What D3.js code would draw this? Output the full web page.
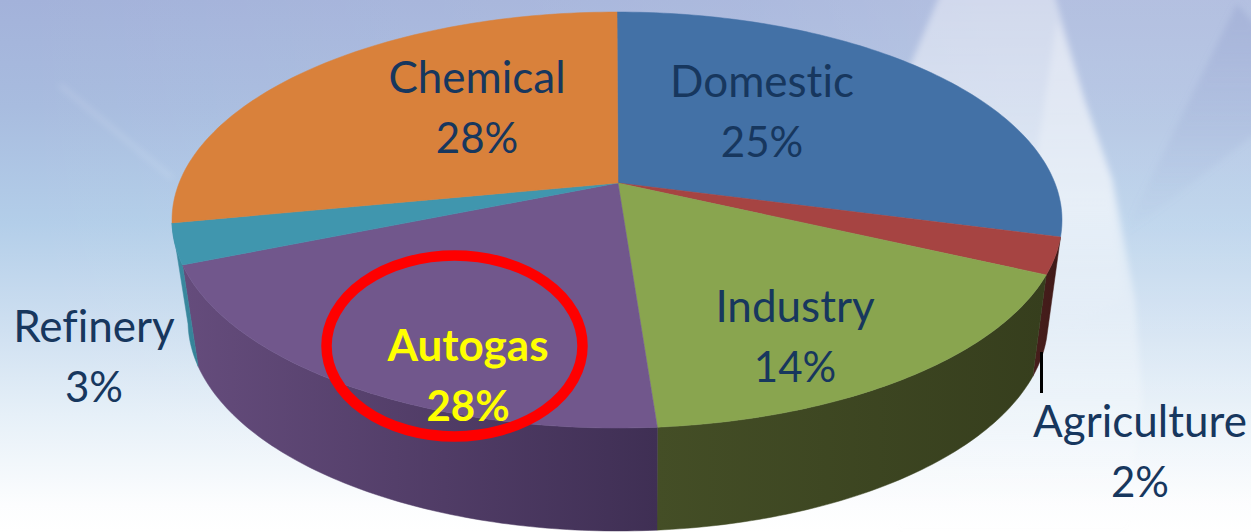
<!DOCTYPE html>
<html><head><meta charset="utf-8">
<script src="https://cdn.jsdelivr.net/npm/d3@7/dist/d3.min.js"></script>
<style>html,body{margin:0;padding:0;background:#fff;overflow:hidden}svg{display:block}text{font-family:Lato,"Open Sans",sans-serif;font-variant-ligatures:none}</style>
</head><body><svg id="c" width="1251" height="532"></svg>
<script>
const categories = ["Domestic","Agriculture","Industry","Autogas","Refinery","Chemical"];
const shares = [25,2,14,28,3,28];
const topColors = ["#4371a6","#a64442","#89a54f","#71578c","#4096ae","#d9813b"];
const wallFrom = ["#2f4f75","#471e1c","#444e26","#654c7c","#3c8ca3","#96592a"];
const wallTo = ["#2f4f75","#401a18","#363e1d","#3f2f54","#348297","#96592a"];
const labelSpots = [[762,97],[1140,437],[795,322],[468,361],[94,342],[477,93]];

const W=1251,H=532;
const svg=d3.select("#c");
const defs=svg.append("defs");

// background
const bg=defs.append("linearGradient").attr("id","bg").attr("x1",0).attr("x2",0).attr("y1",0).attr("y2",1);
[[0,"#a3b2da"],[.2,"#a8bcdf"],[.42,"#b3cee9"],[.62,"#cfe0f1"],[.78,"#e6f0f8"],[.95,"#fcfdfe"],[1,"#ffffff"]]
 .forEach(s=>bg.append("stop").attr("offset",s[0]).attr("stop-color",s[1]));
svg.append("rect").attr("width",W).attr("height",H).attr("fill","url(#bg)");
const sideLight=defs.append("linearGradient").attr("id","side").attr("x1",0).attr("x2",1).attr("y1",0).attr("y2",0);
[[0,0],[.6,.1],[.8,.18],[1,.18]].forEach(s=>sideLight.append("stop").attr("offset",s[0]).attr("stop-color","#fff").attr("stop-opacity",s[1]));
svg.append("rect").attr("width",W).attr("height",H).attr("fill","url(#side)");
defs.append("filter").attr("id","soft").attr("x","-20%").attr("y","-20%").attr("width","140%").attr("height","140%").append("feGaussianBlur").attr("stdDeviation",3);
defs.append("filter").attr("id","soft2").append("feGaussianBlur").attr("stdDeviation",3);
const fadeDown=defs.append("linearGradient").attr("id","fade").attr("x1",0).attr("x2",0).attr("y1",0).attr("y2",1);
[[0,.4],[.4,.5],[.7,.3],[1,0]].forEach(s=>fadeDown.append("stop").attr("offset",s[0]).attr("stop-color","#fff").attr("stop-opacity",s[1]));
const fadeInner=defs.append("linearGradient").attr("id","fadeInner").attr("x1",0).attr("x2",0).attr("y1",0).attr("y2",1);
[[0,.25],[.6,.25],[1,0]].forEach(s=>fadeInner.append("stop").attr("offset",s[0]).attr("stop-color","#fff").attr("stop-opacity",s[1]));
const fadeTri=defs.append("linearGradient").attr("id","fadeTri").attr("x1",0).attr("x2",0).attr("y1",0).attr("y2",1);
[[0,.35],[1,0]].forEach(s=>fadeTri.append("stop").attr("offset",s[0]).attr("stop-color","#8f9dcc").attr("stop-opacity",s[1]));
const bgG=svg.append("g").attr("filter","url(#soft)");
bgG.append("path").attr("fill","url(#fade)")
 .attr("d","M942,-10 L1053,-10 L1085,100 L1113,180 L1135,300 L1142,400 L1125,532 L900,532 L900,90 Z");
bgG.append("path").attr("fill","url(#fadeInner)")
 .attr("d","M1057,20 L1080,90 L1110,180 L1125,300 L1060,330 L1030,200 Z");
bgG.append("path").attr("fill","url(#fadeTri)")
 .attr("d","M1237,4 L1260,30 L1260,130 L1120,240 Z");
svg.append("line").attr("x1",60).attr("y1",85).attr("x2",172).attr("y2",178)
 .attr("stroke","#fff").attr("stroke-opacity",.15).attr("stroke-width",4).attr("filter","url(#soft2)");

// pie geometry
const TAU=2*Math.PI;
const slices=d3.pie().sort(null).value(d=>d)(shares);
const stops=[0,...d3.cumsum(shares)].map(v=>v/100*TAU);
const deg=d=>d*Math.PI/180;
// perspective warp: share angle -> angle on the drawn ellipse
const warp=d3.scaleLinear().domain(stops).range([0,94.7,105.3,174.8,257.5,269.2,360].map(deg));
const topRim=t=>[617+445*Math.sin(t),220-208*Math.cos(t)];
const botRim=t=>[618+430*Math.sin(t),321-210*Math.cos(t)];
const apex=[618,183];
const samples=(a,b)=>{const n=Math.max(4,Math.ceil((b-a)/deg(1)));return d3.range(n+1).map(i=>a+(b-a)*i/n);};
const straight=d3.line();

// walls: only the slices on the near side of the pie show one
const walls=svg.append("g");
slices.forEach((p,i)=>{
  const a=warp(p.startAngle),b=warp(p.endAngle);
  if(a<deg(90)||a>deg(269))return;
  const ts=samples(a,b);
  const pts=[...ts.map(topRim),...ts.slice().reverse().map(botRim)];
  const xs=pts.map(d=>d[0]);
  const id="w"+i;
  const g=defs.append("linearGradient").attr("id",id).attr("gradientUnits","userSpaceOnUse")
    .attr("x1",d3.min(xs)).attr("x2",d3.max(xs)).attr("y1",0).attr("y2",0);
  g.append("stop").attr("offset",0).attr("stop-color",wallFrom[i]);
  g.append("stop").attr("offset",1).attr("stop-color",wallTo[i]);
  walls.append("path").attr("d",straight(pts)+"Z").attr("fill",`url(#${id})`)
    .attr("stroke",`url(#${id})`).attr("stroke-width",.5);
});

// top face
const face=svg.append("g");
slices.forEach((p,i)=>{
  const pts=[apex,...samples(warp(p.startAngle),warp(p.endAngle)).map(topRim)];
  face.append("path").attr("d",straight(pts)+"Z").attr("fill",topColors[i])
    .attr("stroke",topColors[i]).attr("stroke-width",.5).attr("stroke-linejoin","round");
});

// leader
svg.append("line").attr("x1",1041.5).attr("x2",1041.5).attr("y1",352).attr("y2",393).attr("stroke","#000").attr("stroke-width",3);

// highlight ring
svg.append("ellipse").attr("cx",454.5).attr("cy",346).attr("rx",128).attr("ry",90.5)
  .attr("fill","none").attr("stroke","#fe0000").attr("stroke-width",10.5);

// labels
const labels=svg.append("g").attr("text-anchor","middle");
categories.forEach((c,i)=>{
  const hi=c==="Autogas";
  const [x,y]=labelSpots[i];
  const t=labels.append("text").attr("fill",hi?"#ffff00":"#17375e").attr("font-weight",hi?700:400);
  t.append("tspan").attr("x",x).attr("y",y).attr("font-size",44).text(c);
  t.append("tspan").attr("x",x).attr("y",y+59.5).attr("font-size",42).text(shares[i]+"%");
});
</script></body></html>
